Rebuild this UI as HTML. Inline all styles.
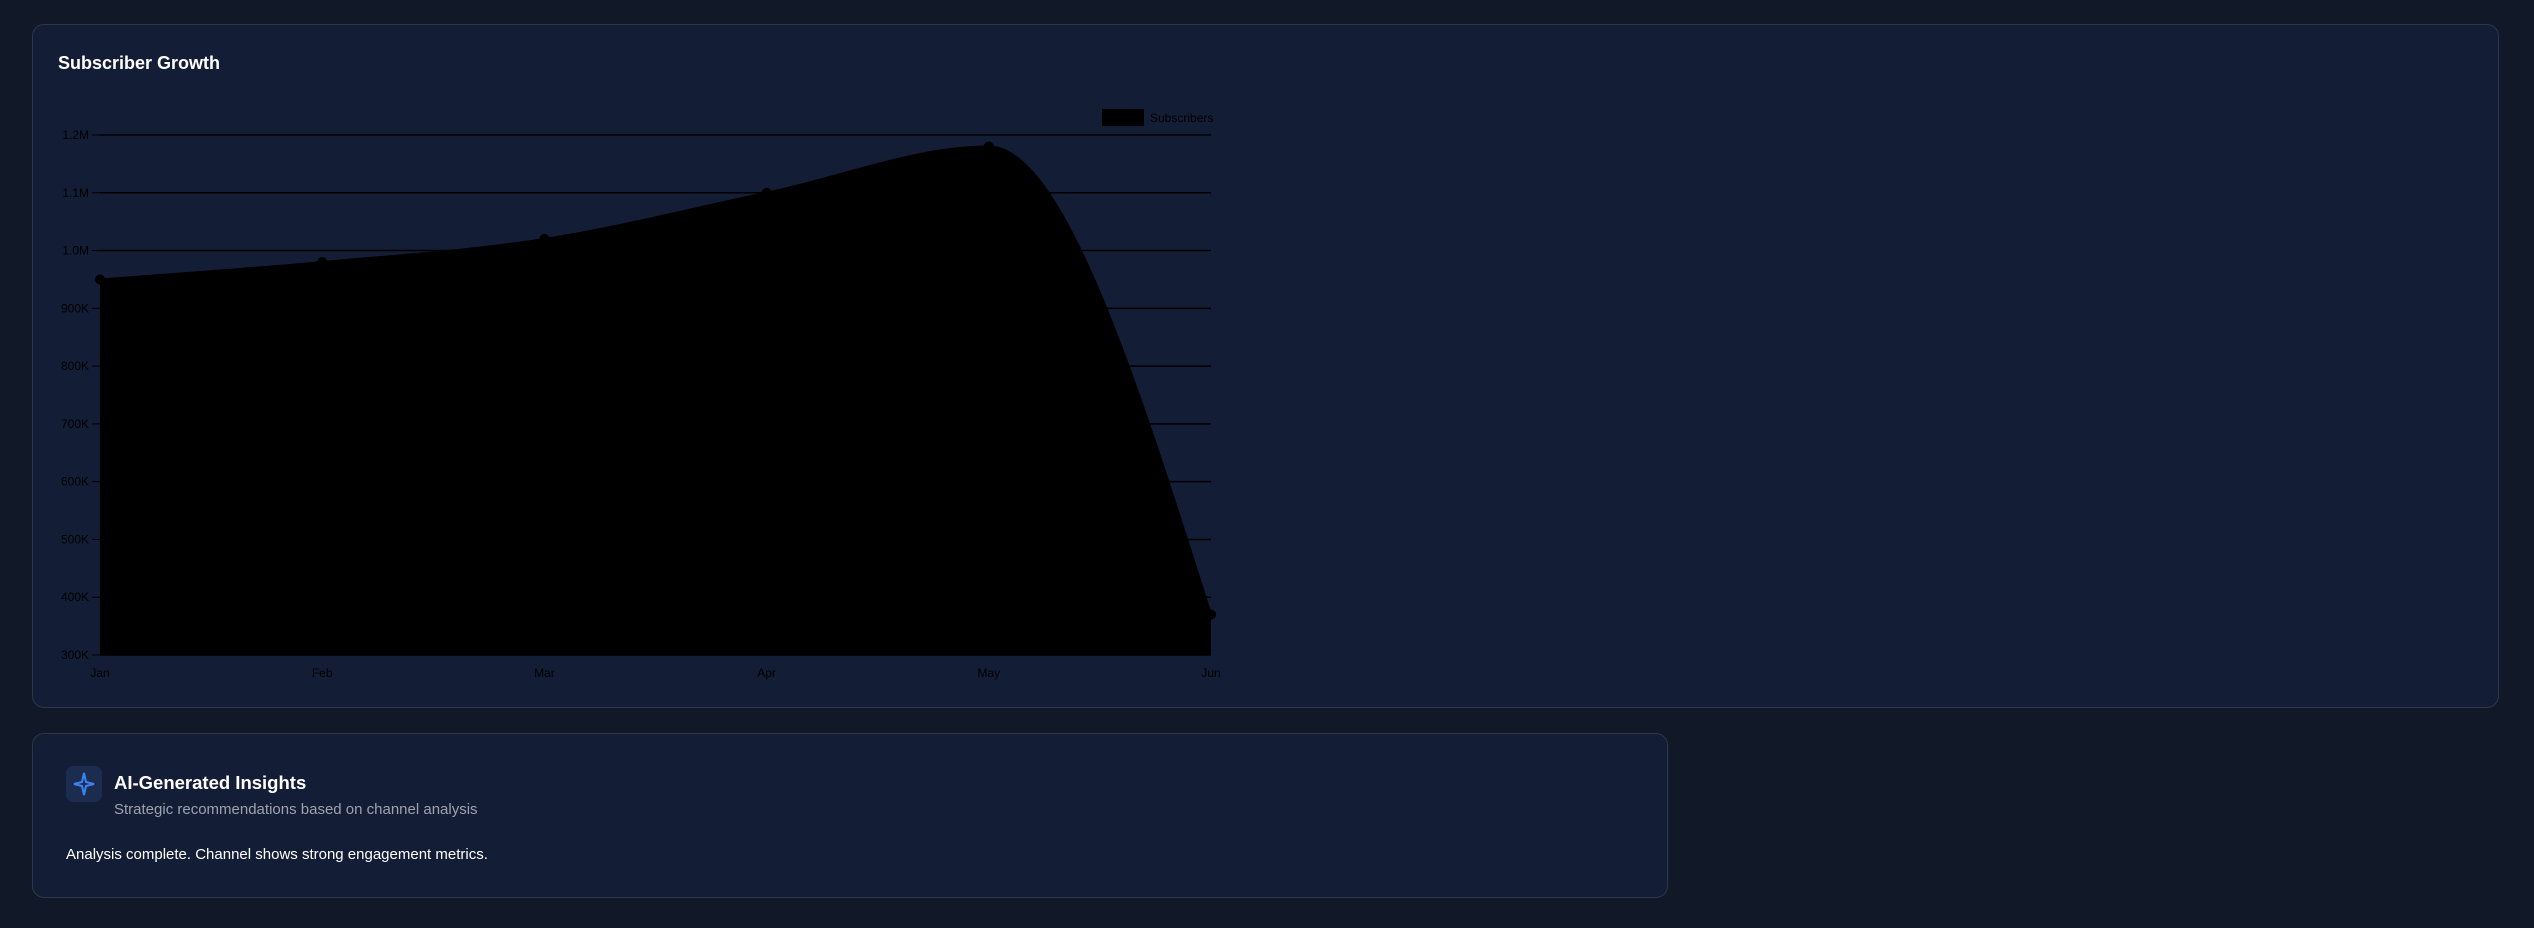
<!DOCTYPE html>
<html><head><meta charset="utf-8"><style>
html,body{margin:0;padding:0;background:#111827;width:2534px;height:928px;overflow:hidden;font-family:"Liberation Sans",sans-serif;}
.card{position:absolute;background:#131d35;border:1.5px solid #2c374b;border-radius:12px;box-sizing:border-box;}
</style></head><body>
<div class="card" style="left:32px;top:24px;width:2467px;height:684px;">
<div style="position:absolute;left:25px;top:28px;color:#fff;font-size:18px;font-weight:bold;">Subscriber Growth</div>
</div>
<svg id="chart" width="2534" height="928" style="position:absolute;left:0;top:0;"></svg>
<div class="card" style="left:32px;top:733px;width:1636px;height:165px;">
<div style="position:absolute;left:33px;top:32px;width:36px;height:36px;border-radius:7px;background:#1b2c4f;">
<svg width="36" height="36"><path d="M18 7 L20 16 L28 18 L20 20 L18 29 L16 20 L8 18 L16 16Z" fill="none" stroke="#3b82f6" stroke-width="2"/></svg></div>
<div style="position:absolute;left:81px;top:38px;color:#fff;font-size:18.5px;font-weight:bold;">AI-Generated Insights</div>
<div style="position:absolute;left:81px;top:67px;color:#9ca3af;font-size:15px;">Strategic recommendations based on channel analysis</div>
<div style="position:absolute;left:33px;top:112px;color:#fff;font-size:15px;">Analysis complete. Channel shows strong engagement metrics.</div>
</div>
<script>
const categories=["Jan","Feb","Mar","Apr","May","Jun"];
const subscribers=[950000,980000,1020000,1100000,1180000,370000];
const yTicks=[300000,400000,500000,600000,700000,800000,900000,1000000,1100000,1200000];
const yTickLabels=["300K","400K","500K","600K","700K","800K","900K","1.0M","1.1M","1.2M"];
const L=100,R=1211,T=135,B=655,ymin=300000,ymax=1200000;
const xs=i=>L+i*(R-L)/(categories.length-1);
const ys=v=>B-(v-ymin)/(ymax-ymin)*(B-T);
const svg=document.getElementById('chart');const NS='http://www.w3.org/2000/svg';
function mk(t,a){const e=document.createElementNS(NS,t);for(const k in a)e.setAttribute(k,a[k]);svg.appendChild(e);return e;}
yTicks.forEach((v,i)=>{
 const g=mk('line',{x1:L,x2:R,y1:ys(v),y2:ys(v),stroke:'#000','stroke-width':1.5});
 
 
 const tk=mk('line',{x1:L-8,x2:L,y1:ys(v),y2:ys(v),stroke:'#000'});
 
 
 const t=mk('text',{x:L-11,y:ys(v)+4,'text-anchor':'end','font-size':12,fill:'#000'});
 t.textContent=yTickLabels[i];
 
 
});
const pts=subscribers.map((v,i)=>[xs(i),ys(v)]);
// monotone X
const n=pts.length,dx=[],sl=[],m=[];
for(let i=0;i<n-1;i++){dx[i]=pts[i+1][0]-pts[i][0];sl[i]=(pts[i+1][1]-pts[i][1])/dx[i];}
for(let i=1;i<n-1;i++){
 const s0=sl[i-1],s1=sl[i],h0=dx[i-1],h1=dx[i],p=(s0*h1+s1*h0)/(h0+h1);
 m[i]=(Math.sign(s0)+Math.sign(s1))*Math.min(Math.abs(s0),Math.abs(s1),0.5*Math.abs(p))||0;
}
m[0]=(3*sl[0]-m[1])/2;m[n-1]=(3*sl[n-2]-m[n-2])/2;
let d='M'+pts[0][0]+','+pts[0][1];
for(let i=0;i<n-1;i++){
 const h=dx[i]/3;
 d+=` C${pts[i][0]+h},${pts[i][1]+h*m[i]} ${pts[i+1][0]-h},${pts[i+1][1]-h*m[i+1]} ${pts[i+1][0]},${pts[i+1][1]}`;
}
const area=mk('path',{d:d+` L${R},${B} L${L},${B}Z`,fill:'#000'});


const ln=mk('path',{d:d,fill:'none',stroke:'#000','stroke-width':2});


pts.forEach(p=>{const c=mk('circle',{cx:p[0],cy:p[1],r:5,fill:'#000'});
 
 });
categories.forEach((c,i)=>{const t=mk('text',{x:xs(i),y:677,'text-anchor':'middle','font-size':12,fill:'#000'});
 t.textContent=c;
 
 });
const lr=mk('rect',{x:1102,y:109,width:42,height:17,fill:'#000'});


const lt=mk('text',{x:1150,y:122,'font-size':12,fill:'#000'});lt.textContent='Subscribers';


</script>
</body></html>
